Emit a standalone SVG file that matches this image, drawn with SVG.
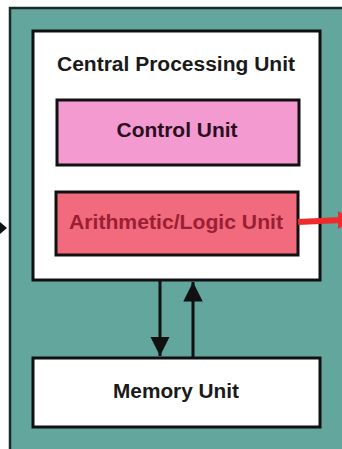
<svg xmlns="http://www.w3.org/2000/svg" width="342" height="449" viewBox="0 0 342 449">
<defs>
<style>
.box{stroke:#111;stroke-width:3}
.lbl{font-family:"Liberation Sans",Arial,sans-serif;font-weight:bold;font-size:20px;text-anchor:middle;fill:#1a1a1a}
.conn{stroke:#111;stroke-width:3;fill:none}
</style>
<marker id="ah" viewBox="0 0 10 10" refX="10" refY="5" markerWidth="6.5" markerHeight="6.5" markerUnits="strokeWidth" orient="auto">
<path d="M0,0 L10,5 L0,10 Z" fill="#111"/>
</marker>
</defs>
<rect width="342" height="449" fill="#ffffff"/>
<g id="computer">
<rect x="10" y="8" width="345" height="460" fill="#63a69e" stroke="#1a2a28" stroke-width="2.5"/>
</g>
<g id="cpu">
<rect class="box" x="33" y="31" width="287" height="249" fill="#ffffff"/>
<text class="lbl" x="176" y="71" textLength="238" lengthAdjust="spacingAndGlyphs">Central Processing Unit</text>
</g>
<g id="control-unit">
<rect class="box" x="57" y="100" width="242" height="65" fill="#f39bd0"/>
<text class="lbl" x="177" y="137" textLength="121" lengthAdjust="spacingAndGlyphs" style="fill:#2a0f1e">Control Unit</text>
</g>
<g id="alu">
<rect class="box" x="56" y="192" width="242" height="63" fill="#f26a7d"/>
<text class="lbl" x="176" y="229" textLength="214" lengthAdjust="spacingAndGlyphs" style="fill:#9a1f33">Arithmetic/Logic Unit</text>
</g>
<g id="memory-unit">
<rect class="box" x="33" y="358" width="287" height="69" fill="#ffffff"/>
<text class="lbl" x="176" y="398" textLength="126" lengthAdjust="spacingAndGlyphs">Memory Unit</text>
</g>
<g id="connectors">
<line class="conn" x1="160" y1="281" x2="160" y2="356" marker-end="url(#ah)"/>
<line class="conn" x1="193" y1="357" x2="193" y2="282" marker-end="url(#ah)"/>
<path d="M0,222 L7,228 L0,234 Z" fill="#111"/>
<line x1="298" y1="222" x2="342" y2="220" stroke="#ee2a2a" stroke-width="6"/>
<path d="M338,211 L352,220 L338,229 Z" fill="#ee2a2a"/>
</g>
</svg>
